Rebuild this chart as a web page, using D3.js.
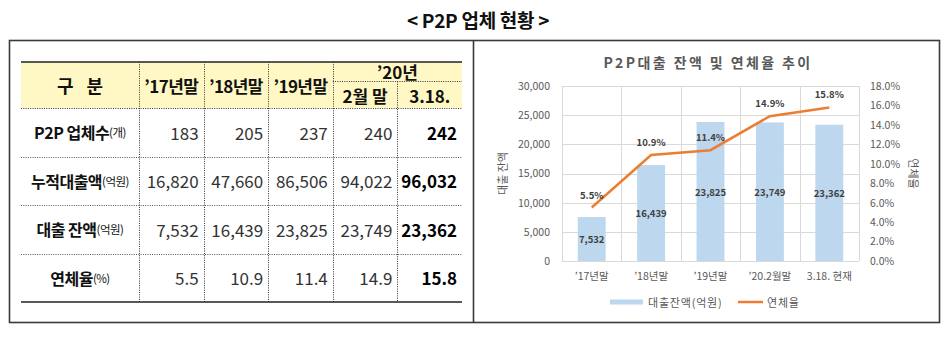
<!DOCTYPE html>
<html><head><meta charset="utf-8">
<script src="https://cdn.jsdelivr.net/npm/d3@7"></script>
<style>
body{margin:0;background:#fff;}
svg{display:block;font-family:"Noto Sans CJK KR","Noto Sans",sans-serif;}
</style></head><body>
<svg id="c" width="947" height="340"></svg>
<script>
// ---------- data ----------
const pageTitle = "< P2P 업체 현황 >";
const headerFirst = "구 분";
const periodHeaders = ["’17년말", "’18년말", "’19년말"];
const yearGroupHeader = "’20년";
const subHeaders = ["2월 말", "3.18."];
const rowLabels = ["P2P 업체수", "누적대출액", "대출 잔액", "연체율"];
const rowUnits = ["(개)", "(억원)", "(억원)", "(%)"];
const firmCounts = [183, 205, 237, 240, 242];
const cumulativeLoans = [16820, 47660, 86506, 94022, 96032];
const loanBalance = [7532, 16439, 23825, 23749, 23362];
const delinquencyRate = [5.5, 10.9, 11.4, 14.9, 15.8];
const chartTitle = "P2P대출 잔액 및 연체율 추이";
const chartCategories = ["’17년말", "’18년말", "’19년말", "’20.2월말", "3.18. 현재"];
const balanceTicks = [0, 5000, 10000, 15000, 20000, 25000, 30000];
const rateTicks = [0, 2, 4, 6, 8, 10, 12, 14, 16, 18];
const leftAxisTitle = "대출 잔액";
const rightAxisTitle = "연체율";
const legendLabels = ["대출잔액(억원)", "연체율"];

// ---------- page ----------
const svg = d3.select("#c");

svg.append("text").attr("x", 478).attr("y", 19)
  .attr("text-anchor", "middle").attr("dominant-baseline", "central")
  .attr("font-size", 19).attr("font-weight", 700).attr("letter-spacing", -0.3)
  .attr("fill", "#111").text(pageTitle);

svg.append("rect").attr("x", 9.5).attr("y", 40.5).attr("width", 930).attr("height", 282)
  .attr("fill", "none").attr("stroke", "#3a3a3a").attr("stroke-width", 1.6);
svg.append("line").attr("x1", 473.5).attr("x2", 473.5).attr("y1", 40.5).attr("y2", 322.5)
  .attr("stroke", "#3a3a3a").attr("stroke-width", 1.6);

// ---------- table ----------
const tL = 21, tR = 462, hTop = 62, hBot = 108, tBot = 302;
const colX = d3.scaleBand().domain(d3.range(5)).range([139, tR]);
const cw = colX.bandwidth();
const rowY = d3.scaleBand().domain(d3.range(4)).range([hBot, tBot]);
const rh = rowY.bandwidth();
const tbl = svg.append("g");

tbl.append("rect").attr("x", tL).attr("y", hTop).attr("width", tR - tL).attr("height", hBot - hTop)
  .attr("fill", "#FFF8C4");

const dotted = (x1, y1, x2, y2, col) => tbl.append("line")
  .attr("x1", x1).attr("y1", y1).attr("x2", x2).attr("y2", y2)
  .attr("stroke", col || "#333").attr("stroke-width", 1).attr("stroke-dasharray", "1,1.3");

dotted(tL, hBot + 0.5, tR, hBot + 0.5);
[1, 2, 3].forEach(i => dotted(tL, Math.round(rowY(i)) + 0.5, tR, Math.round(rowY(i)) + 0.5, "#555"));
dotted(colX(3), 81.5, tR, 81.5);
[139, colX(1), colX(2), colX(3)].forEach(x => dotted(Math.round(x) + 0.5, hTop, Math.round(x) + 0.5, tBot));
dotted(Math.round(colX(4)) + 0.5, 81.5, Math.round(colX(4)) + 0.5, tBot);

tbl.append("line").attr("x1", tL).attr("x2", tR).attr("y1", hTop).attr("y2", hTop)
  .attr("stroke", "#222").attr("stroke-width", 1.6);
tbl.append("line").attr("x1", tL).attr("x2", tR).attr("y1", tBot).attr("y2", tBot)
  .attr("stroke", "#222").attr("stroke-width", 1.6);

// header texts
const hdr = (x, y, t, size) => tbl.append("text").attr("x", x).attr("y", y)
  .attr("text-anchor", "middle").attr("dominant-baseline", "central")
  .attr("font-size", size || 17).attr("font-weight", 700).attr("fill", "#111").text(t);
hdr((tL + 139) / 2, 85, headerFirst, 18).attr("word-spacing", 9);
periodHeaders.forEach((h, i) => hdr(colX(i) + cw / 2, 85, h).attr("letter-spacing", -0.6));
hdr(colX(3) + cw, 71, yearGroupHeader);
subHeaders.forEach((h, i) => hdr(colX(3 + i) + cw / 2, 95, h));

// body
const tableRows = [firmCounts, cumulativeLoans, loanBalance, delinquencyRate];
const fmts = [d3.format(","), d3.format(","), d3.format(","), d3.format(".1f")];
tableRows.forEach((vals, r) => {
  const cy = rowY(r) + rh / 2;
  const lab = tbl.append("text").attr("x", (tL + 139) / 2).attr("y", cy)
    .attr("text-anchor", "middle").attr("dominant-baseline", "central")
    .attr("fill", "#111").attr("letter-spacing", -0.5);
  lab.append("tspan").attr("font-size", 16).attr("font-weight", 700).text(rowLabels[r]);
  lab.append("tspan").attr("font-size", 11.5).attr("font-weight", 400).text(rowUnits[r]);
  vals.forEach((v, c) => {
    tbl.append("text").attr("x", colX(c) + cw - 5).attr("y", cy)
      .attr("text-anchor", "end").attr("dominant-baseline", "central")
      .attr("font-size", 17).attr("font-weight", c === 4 ? 700 : 400)
      .attr("fill", c === 4 ? "#000" : "#333").text(fmts[r](v));
  });
});

// ---------- chart ----------
const pL = 562, pR = 859, pT = 86, pB = 261;
const x = d3.scaleBand().domain(chartCategories).range([pL, pR]);
const bw = x.bandwidth();
const yL = d3.scaleLinear().domain([0, 30000]).range([pB, pT]);
const yR = d3.scaleLinear().domain([0, 18]).range([pB, pT]);
const ch = svg.append("g");
const grey = "#595959";

ch.append("text").attr("x", 708).attr("y", 62).attr("text-anchor", "middle")
  .attr("dominant-baseline", "central").attr("font-size", 14).attr("font-weight", 700)
  .attr("letter-spacing", 2.4).attr("fill", grey).text(chartTitle);

// gridlines
ch.append("g").selectAll("line").data(balanceTicks).join("line")
  .attr("x1", pL).attr("x2", pR).attr("y1", d => Math.round(yL(d)) + 0.5).attr("y2", d => Math.round(yL(d)) + 0.5)
  .attr("stroke", "#D9D9D9");
ch.append("g").selectAll("line").data(chartCategories.map(c => x(c)).concat([pR])).join("line")
  .attr("x1", d => Math.round(d) + 0.5).attr("x2", d => Math.round(d) + 0.5)
  .attr("y1", pT).attr("y2", pB).attr("stroke", "#D9D9D9");

// axes
const styleAxis = (g, size) => {
  g.select(".domain").remove();
  g.selectAll("text").attr("fill", grey).attr("font-size", size)
    .attr("font-family", '"Noto Sans CJK KR","Noto Sans",sans-serif');
};
ch.append("g").attr("transform", `translate(${pL},0)`)
  .call(d3.axisLeft(yL).tickValues(balanceTicks).tickFormat(d3.format(",")).tickSize(0).tickPadding(12))
  .call(g => styleAxis(g, 10.5));
ch.append("g").attr("transform", `translate(${pR},0)`)
  .call(d3.axisRight(yR).tickValues(rateTicks).tickFormat(d => d3.format(".1f")(d) + "%").tickSize(0).tickPadding(11))
  .call(g => styleAxis(g, 10.5));
ch.append("g").attr("transform", `translate(0,${pB})`)
  .call(d3.axisBottom(x).tickSize(0).tickPadding(12))
  .call(g => styleAxis(g, 10.5));

// axis titles
ch.append("text").attr("transform", `translate(502,${(pT + pB) / 2}) rotate(-90)`)
  .attr("text-anchor", "middle").attr("dominant-baseline", "central")
  .attr("font-size", 11).attr("fill", grey).text(leftAxisTitle);
ch.append("text").attr("transform", `translate(914,${(pT + pB) / 2}) rotate(90)`)
  .attr("text-anchor", "middle").attr("dominant-baseline", "central")
  .attr("font-size", 11).attr("fill", grey).text(rightAxisTitle);

// bars
const barW = bw * 0.47;
const barData = chartCategories.map((c, i) => ({ c, v: loanBalance[i], r: delinquencyRate[i] }));
ch.append("g").selectAll("rect").data(barData).join("rect")
  .attr("x", d => x(d.c) + (bw - barW) / 2).attr("width", barW)
  .attr("y", d => yL(d.v)).attr("height", d => yL(0) - yL(d.v))
  .attr("fill", "#BDD7EE");
ch.append("g").selectAll("text").data(barData).join("text")
  .attr("x", d => x(d.c) + bw / 2).attr("y", d => (yL(d.v) + yL(0)) / 2)
  .attr("text-anchor", "middle").attr("dominant-baseline", "central")
  .attr("font-size", 9.5).attr("font-weight", 700).attr("fill", "#404040")
  .text(d => d3.format(",")(d.v));

// line
ch.append("path").datum(barData)
  .attr("d", d3.line().x(d => x(d.c) + bw / 2).y(d => yR(d.r)))
  .attr("fill", "none").attr("stroke", "#ED7D31").attr("stroke-width", 2.5);
ch.append("g").selectAll("text").data(barData).join("text")
  .attr("x", d => x(d.c) + bw / 2).attr("y", d => yR(d.r) - 13)
  .attr("text-anchor", "middle").attr("dominant-baseline", "central")
  .attr("font-size", 9.5).attr("font-weight", 700).attr("fill", "#404040")
  .text(d => d3.format(".1f")(d.r) + "%");

// legend
const lg = ch.append("g");
lg.append("rect").attr("x", 610).attr("y", 299.5).attr("width", 33).attr("height", 5).attr("fill", "#BDD7EE");
lg.append("text").attr("x", 648).attr("y", 302).attr("dominant-baseline", "central")
  .attr("font-size", 11).attr("letter-spacing", 0.8).attr("fill", grey).text(legendLabels[0]);
lg.append("line").attr("x1", 738).attr("x2", 763).attr("y1", 302).attr("y2", 302)
  .attr("stroke", "#ED7D31").attr("stroke-width", 2.5);
lg.append("text").attr("x", 767).attr("y", 302).attr("dominant-baseline", "central")
  .attr("font-size", 11).attr("letter-spacing", 0.8).attr("fill", grey).text(legendLabels[1]);
</script>
</body></html>
